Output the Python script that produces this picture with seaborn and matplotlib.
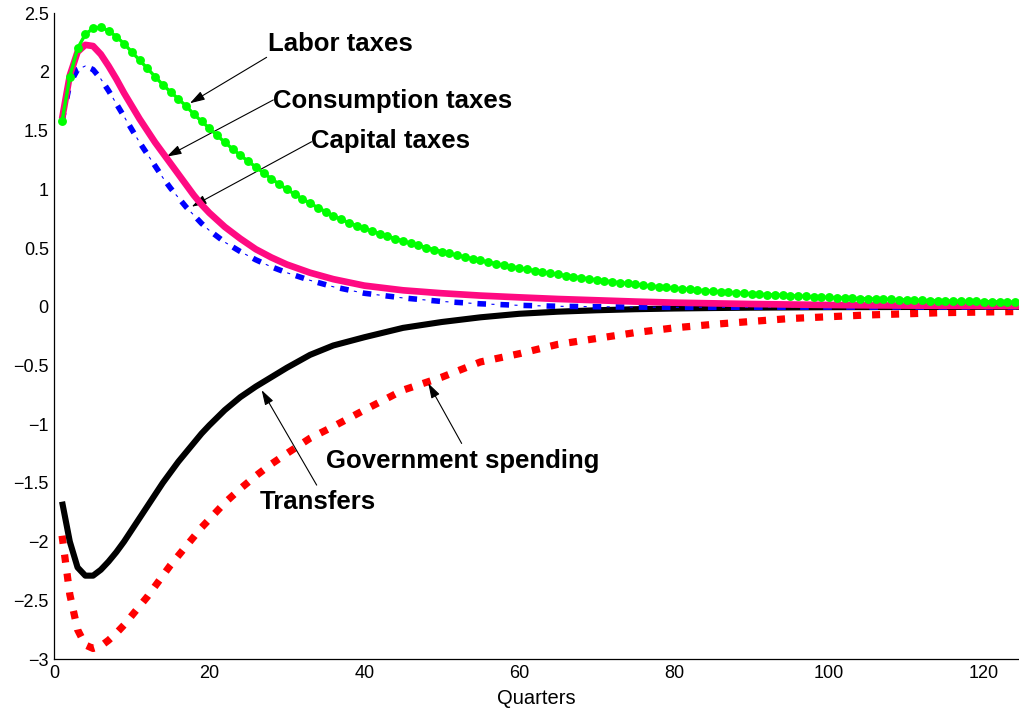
import numpy as np
import pandas as pd
import matplotlib
matplotlib.use("Agg")
import matplotlib.pyplot as plt
import seaborn as sns

# ---- data: impulse responses by quarter ----
labor_q = list(range(1, 126))
labor_taxes = [
    1.58, 1.96, 2.20, 2.32, 2.37, 2.38, 2.35, 2.30, 2.24, 2.17,
    2.10, 2.03, 1.96, 1.89, 1.83, 1.77, 1.71, 1.64, 1.58, 1.52,
    1.46, 1.40, 1.345, 1.29, 1.24, 1.19, 1.14, 1.09, 1.045, 1.00,
    0.96, 0.92, 0.88, 0.845, 0.81, 0.775, 0.745, 0.715, 0.69, 0.667,
    0.644, 0.622, 0.60, 0.58, 0.56, 0.54, 0.522, 0.504, 0.487, 0.47,
    0.454, 0.438, 0.423, 0.408, 0.394, 0.38, 0.367, 0.354, 0.342, 0.33,
    0.318, 0.307, 0.296, 0.285, 0.275, 0.265, 0.256, 0.247, 0.238, 0.229,
    0.221, 0.213, 0.205, 0.198, 0.191, 0.184, 0.177, 0.171, 0.165, 0.159,
    0.153, 0.148, 0.142, 0.137, 0.132, 0.128, 0.123, 0.119, 0.115, 0.111,
    0.107, 0.104, 0.100, 0.097, 0.094, 0.091, 0.088, 0.085, 0.082, 0.079,
    0.077, 0.074, 0.072, 0.070, 0.068, 0.066, 0.064, 0.062, 0.060, 0.058,
    0.056, 0.055, 0.053, 0.052, 0.050, 0.049, 0.047, 0.046, 0.045, 0.044,
    0.043, 0.042, 0.041, 0.040, 0.039,
]

quarters = [1, 2, 3, 4, 5, 6, 7, 8, 9, 10, 11, 12, 13, 14, 15, 16, 17, 18, 19, 20,
            22, 24, 26, 28, 30, 33, 36, 40, 45, 50, 55, 60, 65, 70, 75, 80, 85, 90,
            95, 100, 105, 110, 115, 120, 125]

consumption_taxes = [1.60, 1.97, 2.17, 2.23, 2.22, 2.15, 2.05, 1.94, 1.82, 1.71,
                     1.60, 1.50, 1.40, 1.31, 1.22, 1.13, 1.04, 0.95, 0.87, 0.80,
                     0.68, 0.58, 0.49, 0.42, 0.36, 0.29, 0.235, 0.18, 0.14, 0.115,
                     0.095, 0.08, 0.066, 0.055, 0.044, 0.035, 0.029, 0.023,
                     0.019, 0.015, 0.012, 0.010, 0.008, 0.007, 0.006]

capital_taxes = [1.58, 1.90, 2.02, 2.05, 2.02, 1.94, 1.84, 1.73, 1.62, 1.51,
                 1.40, 1.30, 1.20, 1.10, 1.01, 0.93, 0.85, 0.78, 0.71, 0.65,
                 0.55, 0.47, 0.40, 0.34, 0.29, 0.225, 0.17, 0.115, 0.075, 0.045,
                 0.025, 0.012, 0.004, 0.0, -0.003, -0.005, -0.005, -0.004,
                 -0.004, -0.003, -0.003, -0.002, -0.002, -0.001, -0.001]

transfers = [-1.66, -2.00, -2.22, -2.29, -2.29, -2.24, -2.17, -2.09, -2.00, -1.90,
             -1.80, -1.70, -1.60, -1.50, -1.41, -1.32, -1.24, -1.16, -1.08, -1.01,
             -0.88, -0.77, -0.68, -0.60, -0.52, -0.41, -0.33, -0.26, -0.18, -0.13,
             -0.09, -0.06, -0.042, -0.03, -0.021, -0.015, -0.011, -0.008,
             -0.006, -0.004, -0.003, -0.002, -0.002, -0.001, -0.001]

gov_spending = [-1.95, -2.45, -2.75, -2.88, -2.91, -2.89, -2.84, -2.78, -2.71, -2.63,
                -2.55, -2.47, -2.38, -2.29, -2.20, -2.12, -2.04, -1.96, -1.88, -1.81,
                -1.67, -1.55, -1.44, -1.34, -1.25, -1.12, -1.02, -0.88, -0.71, -0.60,
                -0.47, -0.40, -0.32, -0.27, -0.22, -0.18, -0.15, -0.125,
                -0.10, -0.085, -0.07, -0.06, -0.05, -0.045, -0.04]

x_ticks = [0, 20, 40, 60, 80, 100, 120]
y_ticks = [-3, -2.5, -2, -1.5, -1, -0.5, 0, 0.5, 1, 1.5, 2, 2.5]
y_tick_labels = ["\u22123", "\u22122.5", "\u22122", "\u22121.5", "\u22121", "\u22120.5",
                 "0", "0.5", "1", "1.5", "2", "2.5"]

# ---- styling ----
sns.set_style("white")
plt.rcParams["font.family"] = ["Liberation Sans", "DejaVu Sans"]
plt.rcParams["lines.scale_dashes"] = False
plt.rcParams["text.color"] = "black"
plt.rcParams["axes.labelcolor"] = "black"

fig = plt.figure(figsize=(10.19, 7.12), dpi=100)
ax = fig.add_axes([0.0533, 0.0744, 0.9467, 0.9071])

df = pd.DataFrame({"q": quarters, "cons": consumption_taxes, "cap": capital_taxes,
                   "tr": transfers, "gov": gov_spending})
labor_df = pd.DataFrame({"q": labor_q, "labor": labor_taxes})

# government spending: thick red dashes
sns.lineplot(data=df, x="q", y="gov", ax=ax, color="#ff0000", lw=5.2,
             linestyle=(0, (5.8, 7.9)), dash_capstyle="butt", zorder=2)
# transfers: thick black solid
sns.lineplot(data=df, x="q", y="tr", ax=ax, color="#000000", lw=4.4,
             solid_capstyle="butt", zorder=3)
# capital taxes: thick blue dashes plus a thin dash-dot trace
sns.lineplot(data=df, x="q", y="cap", ax=ax, color="#0000ff", lw=4.0,
             linestyle=(0, (6.2, 10.4)), dash_capstyle="butt", zorder=4)
sns.lineplot(data=df, x="q", y="cap", ax=ax, color="#0000ff", lw=0.8,
             linestyle=(6.5, (2.2, 14.4)), zorder=4)
# consumption taxes: thick magenta
sns.lineplot(data=df, x="q", y="cons", ax=ax, color="#ff0a82", lw=4.8,
             solid_capstyle="butt", zorder=5)
# labor taxes: green line with filled circles each quarter
sns.lineplot(data=labor_df, x="q", y="labor", ax=ax, color="#00ff00", lw=2.4,
             marker="o", markersize=6.4, markeredgewidth=0, zorder=6)

ax.set_xlim(0, 124.5)
ax.set_ylim(-3, 2.5)
ax.set_xticks(x_ticks)
ax.set_yticks(y_ticks)
ax.set_yticklabels(y_tick_labels)
ax.tick_params(direction="in", length=5, width=0.8, labelsize=13, colors="black",
               pad=4)
ax.set_xlabel("Quarters", fontsize=14.5, labelpad=5, color="black")
ax.set_ylabel("")
for side in ("top", "right"):
    ax.spines[side].set_visible(False)
for side in ("left", "bottom"):
    ax.spines[side].set_color("black")
    ax.spines[side].set_linewidth(0.9)

# ---- annotations ----
label_kw = dict(fontsize=18.5, fontweight="bold", ha="left", va="center", color="black")
arrow_kw = dict(arrowstyle="-|>,head_length=0.9,head_width=0.28", color="black",
                lw=0.8, shrinkA=0, shrinkB=0)

ax.text(27.6, 2.238, "Labor taxes", **label_kw)
ax.annotate("", xy=(17.5, 1.733), xytext=(27.4, 2.124), arrowprops=arrow_kw)

ax.text(28.2, 1.752, "Consumption taxes", **label_kw)
ax.annotate("", xy=(14.5, 1.278), xytext=(28.26, 1.761), arrowprops=arrow_kw)

ax.text(33.1, 1.411, "Capital taxes", **label_kw)
ax.annotate("", xy=(17.73, 0.852), xytext=(33.2, 1.405), arrowprops=arrow_kw)

ax.text(35.05, -1.314, "Government spending", **label_kw)
ax.annotate("", xy=(48.26, -0.652), xytext=(52.57, -1.164), arrowprops=arrow_kw)

ax.text(26.5, -1.663, "Transfers", **label_kw)
ax.annotate("", xy=(26.76, -0.71), xytext=(33.86, -1.519), arrowprops=arrow_kw)

fig.savefig("out.png", dpi=100)
